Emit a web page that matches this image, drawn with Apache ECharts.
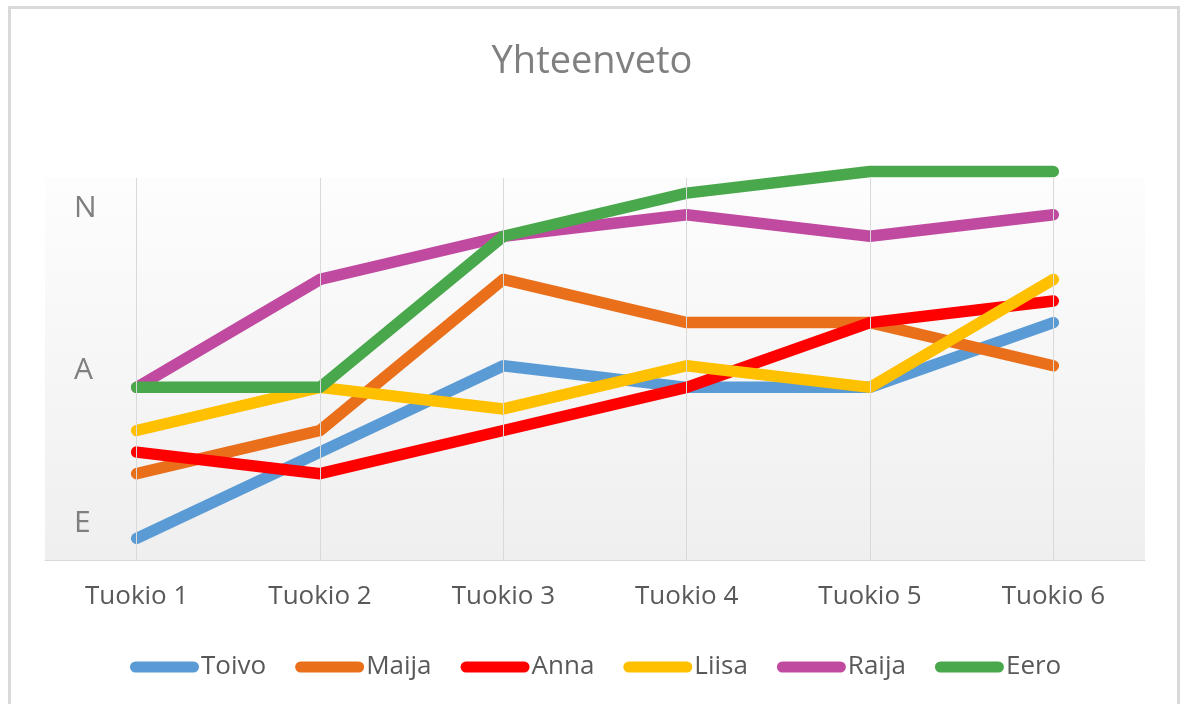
<!DOCTYPE html>
<html>
<head>
<meta charset="utf-8">
<script src="https://cdn.jsdelivr.net/npm/echarts@6/dist/echarts.min.js"></script>
<style>
html,body{margin:0;padding:0;background:#fff;}
#chart{width:1184px;height:704px;}
</style>
</head>
<body>
<div id="chart"></div>
<script>
var categories = ['Tuokio 1','Tuokio 2','Tuokio 3','Tuokio 4','Tuokio 5','Tuokio 6'];
var seriesNames = ['Toivo','Maija','Anna','Liisa','Raija','Eero'];
var toivo = [1, 5, 9, 8, 8, 11];
var maija = [4, 6, 13, 11, 11, 9];
var anna  = [5, 4, 6, 8, 11, 12];
var liisa = [6, 8, 7, 9, 8, 13];
var raija = [8, 13, 15, 16, 15, 16];
var eero  = [8, 8, 15, 17, 18, 18];
var yTickValues = [1.7, 8.8, 16.3];
var yTickLabels = ['E', 'A', 'N'];

var colors = ['#5b9bd5', '#ea6f1b', '#ff0000', '#ffc000', '#c04aa0', '#49a84c'];
var values = [toivo, maija, anna, liisa, raija, eero];

var chart = echarts.init(document.getElementById('chart'));
var font = '"Open Sans", "Noto Sans", sans-serif';

var series = [{
  name: '_grid',
  type: 'line',
  data: [],
  z: 1,
  silent: true,
  markLine: {
    silent: true,
    symbol: ['none', 'none'],
    label: {show: false},
    lineStyle: {color: '#d9d9d9', width: 1, type: 'solid'},
    data: categories.map(function (c) { return {xAxis: c}; })
  }
}];
seriesNames.forEach(function (n, i) {
  series.push({
    name: n,
    type: 'line',
    data: values[i],
    z: 3,
    symbol: 'none',
    clip: false,
    lineStyle: {width: 11.5, color: colors[i], cap: 'round', join: 'round'},
    itemStyle: {color: colors[i]}
  });
});

chart.setOption({
  animation: false,
  color: colors,
  title: {
    text: 'Yhteenveto',
    left: 'center',
    top: 38,
    textStyle: {fontFamily: font, fontSize: 38, fontWeight: 'normal', color: '#808080'}
  },
  legend: {
    data: seriesNames,
    left: 125,
    top: 649,
    itemWidth: 69,
    itemHeight: 11,
    itemGap: 29,
    icon: 'path://M5.5,0 L63.5,0 A5.5,5.5 0 0 1 63.5,11 L5.5,11 A5.5,5.5 0 0 1 5.5,0 Z',
    textStyle: {fontFamily: font, fontSize: 26, color: '#595959', padding: [0, 0, 0, -3]}
  },
  graphic: [{
    type: 'rect',
    shape: {x: 9.5, y: 7.5, width: 1169, height: 720},
    style: {fill: 'none', stroke: '#d9d9d9', lineWidth: 3},
    silent: true
  }],
  grid: {
    left: 45, right: 39, top: 178, bottom: 144,
    show: true,
    borderWidth: 0,
    backgroundColor: new echarts.graphic.LinearGradient(0, 0, 0, 1, [
      {offset: 0, color: '#fdfdfd'},
      {offset: 1, color: '#efefef'}
    ])
  },
  xAxis: {
    type: 'category',
    data: categories,
    boundaryGap: true,
    axisLine: {show: true, lineStyle: {color: '#d9d9d9', width: 1}},
    axisTick: {show: false},
    splitLine: {show: false},
    axisLabel: {fontFamily: font, fontSize: 26, color: '#595959', margin: 24, interval: 0}
  },
  yAxis: {
    type: 'value',
    min: 0,
    max: 17.7,
    axisLine: {show: false},
    axisTick: {show: false},
    splitLine: {show: false},
    axisLabel: {
      inside: true,
      margin: 29,
      fontFamily: font,
      fontSize: 30,
      color: '#7f7f7f',
      customValues: yTickValues,
      formatter: function (v) {
        var idx = -1;
        for (var i = 0; i < yTickValues.length; i++) {
          if (Math.abs(yTickValues[i] - v) < 1e-6) idx = i;
        }
        return idx >= 0 ? yTickLabels[idx] : '';
      }
    }
  },
  series: series
});
</script>
</body>
</html>
